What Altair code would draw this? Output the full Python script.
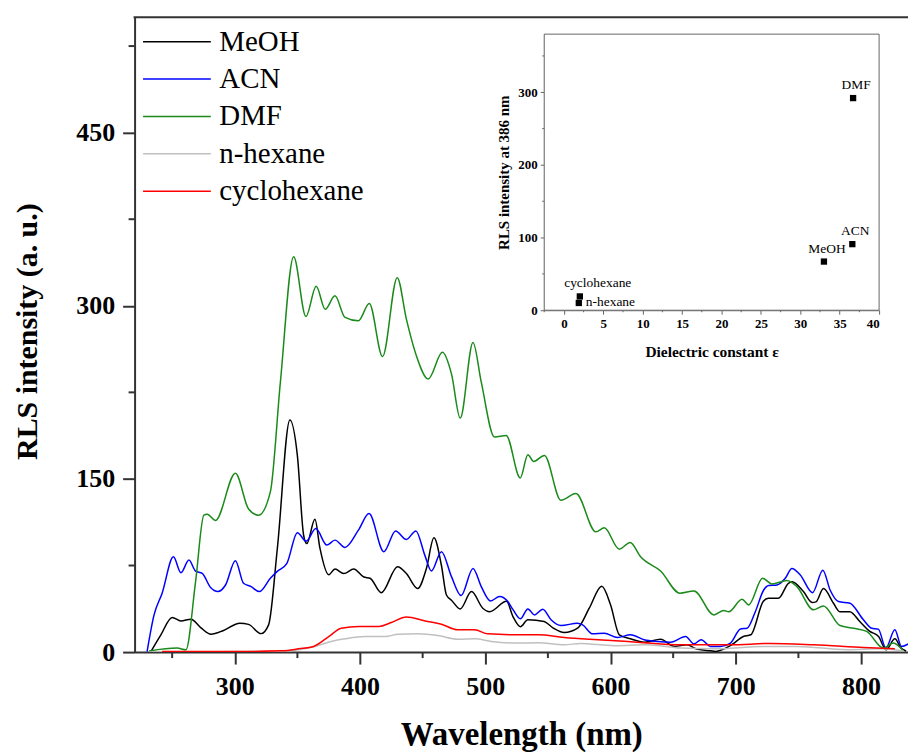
import altair as alt
import pandas as pd

# ---------------- main spectra ----------------
meoh_wl = [233, 241, 250, 257, 265, 273, 281, 291, 304, 311, 321, 327, 334, 344, 350, 355, 357.5, 364, 368, 375,
           380, 387, 395, 403, 408, 417, 430, 437, 446, 453, 459, 465, 469, 473, 480, 489, 498, 503.5, 517, 522,
           528, 534, 547, 554, 563, 574, 583, 593, 600, 607, 616, 627, 640, 651, 661, 669, 680, 684, 696, 706,
           712, 722, 726, 734, 742, 745, 754, 761, 764, 770, 778, 783, 791, 799, 807, 814, 820, 827, 832, 836]
meoh_v = [0.5, 15, 30, 27, 28.5, 21, 15.5, 18.7, 25, 24, 16, 23.6, 90, 201, 170, 101, 94, 115, 90, 67,
          72, 68, 72, 65, 64, 51.5, 74, 68, 55, 72.5, 99, 75, 49.5, 45, 37.4, 52.4, 38, 35, 44, 31,
          22, 28, 26.5, 21, 17, 21, 38, 57, 41, 15, 11.5, 8.6, 11.2, 4.9, 6.3, 2.6, 1.1, 0.6, 5.8, 13.5,
          15, 44, 46.6, 46.6, 59.6, 61, 52.4, 43, 43.5, 55, 42.3, 35, 35, 26.5, 18, 13.5, 2, 11.5, 3.5, 1]

acn_wl = [230, 235.5, 242, 251, 257, 263.4, 268.7, 274, 280.7, 286.5, 292.6, 300.5, 307, 313, 319.6, 328.4,
          333.7, 341.6, 350, 357, 364.7, 373.5, 380, 388, 398.7, 407.2, 419, 428.4, 437, 444.6, 451.7, 457,
          465, 473, 480.7, 490.2, 496.8, 504.2, 511.4, 518, 522, 528, 534, 539.3, 545.9, 552.5, 560.4, 573.7,
          577.7, 585.7, 595, 605.6, 616, 626.8, 637.4, 648, 659.9, 666.6, 672.4, 679.8, 687.7, 695.8, 703.7,
          709, 715.6, 722.3, 726.3, 732.9, 739.5, 744.8, 751.5, 761.3, 769.5, 775.3, 782, 791.2, 801.9, 808.5,
          813.8, 819.8, 827, 832.3, 839]
acn_v = [0.5, 32, 51, 82.6, 68.8, 79.7, 70.2, 68.2, 55.9, 52.4, 58.1, 79.2, 59.6, 56.7, 52.4, 63.9,
         69.7, 76.9, 103.4, 96, 107, 92.7, 97, 90.7, 105.6, 120, 87, 105, 97.6, 105, 84, 70.2,
         87, 65.4, 49, 72.5, 56.7, 44.3, 48.1, 43.8, 37, 28.8, 37.4, 32.2, 37.1, 28, 23, 25,
         23.6, 15.8, 16.4, 12.7, 15, 10.7, 9.2, 8.6, 13.5, 7.2, 10.7, 4.9, 4.9, 7.8, 20,
         20.7, 35, 53.8, 57.6, 58.1, 63.9, 72.5, 66.8, 51.5, 71, 53.8, 43.8, 42.3, 28, 20.7,
         19.9, 3.5, 19.3, 4.9, 7.8]

dmf_wl = [231.6, 254, 261, 268.7, 275.3, 278, 284.6, 300.5, 311, 319, 328.4, 336.4, 347, 356.8, 365, 372.2,
          380, 388, 398.7, 407.4, 418, 429.7, 437, 445, 454.4, 465.8, 473, 480, 490.2, 496.8, 507.4, 516.7,
          527.9, 534, 538.7, 547.2, 560.4, 572.4, 588.3, 595, 607, 615.7, 624, 640, 655.4, 666.6, 682.5,
          690.4, 694.4, 705, 710.3, 721.4, 728.9, 740.8, 748.8, 762, 770, 783.2, 794, 804.5, 817.8, 825.7, 833.7]
dmf_v = [1, 3.5, 2, 61, 118.6, 119.5, 114, 155, 124, 118.6, 138.8, 233.8, 342.5, 290.7, 317, 297,
         308.6, 290, 287, 302, 256, 324.4, 288.4, 256.7, 236.6, 259.7, 241, 202.7, 268.3, 233.8, 186.3, 187.7,
         150.9, 171, 165.2, 170.4, 131.5, 137.3, 104.2, 107.7, 89.2, 95, 82.6, 70.2, 51, 53, 32.2,
         36, 35, 45.8, 40.9, 63.9, 59, 62, 56.7, 36.6, 40, 23, 20.7, 17.9, 3.5, 7.8, 1]

hex_wl = [232, 300, 340, 351, 364, 377, 388, 404, 420, 430.5, 446, 462, 478, 491.5, 505, 526, 542, 563, 576,
          603, 629, 656, 682.5, 722, 749, 789, 815, 834]
hex_v = [0, 0.5, 1, 2, 4.9, 9.2, 11.5, 13.5, 13.5, 15.5, 15.8, 14.4, 11.2, 11.5, 9.2, 7.8, 8, 6.3, 7.5,
         5.5, 6.3, 3.5, 2.8, 4.9, 4.9, 2, 2.8, 1]

cyc_wl = [242, 300, 338, 351, 363, 375, 385, 399, 415, 425, 437, 452, 465, 478, 491.5, 502, 526, 542, 563,
          590, 621.5, 656, 696, 727.6, 762, 802, 827]
cyc_v = [0.5, 0.5, 1.1, 2.8, 4.9, 13.5, 20.7, 22.2, 22.2, 25.6, 30.5, 27, 24.2, 19.3, 19.3, 15.8, 15, 15, 12.7,
         10.7, 8.6, 6.3, 6.3, 7.5, 6.3, 4, 2.8]

series_names = ["MeOH", "ACN", "DMF", "n-hexane", "cyclohexane"]
series_colors = ["#000000", "#0000ff", "#1a8a1a", "#c0c0c0", "#ff0000"]

x_major = [300, 400, 500, 600, 700, 800]
x_minor = [250, 350, 450, 550, 650, 750]
y_major = [0, 150, 300, 450]
y_minor = [75, 225, 375, 525]
x_domain = [220, 837.5]
y_domain = [0, 550]

# ---------------- inset ----------------
inset_names = ["cyclohexane", "n-hexane", "MeOH", "ACN", "DMF"]
inset_eps = [2.02, 1.89, 33.0, 36.6, 36.7]
inset_rls = [19, 10, 67, 91, 292]
inset_x_major = [0, 5, 10, 15, 20, 25, 30, 35, 40]
inset_x_minor = [-2.5, 2.5, 7.5, 12.5, 17.5, 22.5, 27.5, 32.5, 37.5]
inset_y_major = [0, 100, 200, 300]
inset_y_minor = [50, 150, 250, 350]
inset_x_domain = [-2.5, 40]
inset_y_domain = [0, 380]

# ---------------- build ----------------
FONT = "Liberation Serif"
W, H = 776, 637
AX = "#333333"

rows = []
for name, wl, vals in zip(series_names, [meoh_wl, acn_wl, dmf_wl, hex_wl, cyc_wl],
                          [meoh_v, acn_v, dmf_v, hex_v, cyc_v]):
    for w, v in zip(wl, vals):
        rows.append({"solvent": name, "wavelength": w, "intensity": v})
df = pd.DataFrame(rows)


def xs():
    return alt.Scale(domain=x_domain, range=[0, W], nice=False, zero=False)


def ys():
    return alt.Scale(domain=y_domain, range=[H, 0], nice=False, zero=False)


lines = alt.Chart(df).mark_line(interpolate="monotone", strokeWidth=1.5, clip=True).encode(
    x=alt.X("wavelength:Q", scale=xs(),
            axis=alt.Axis(values=x_major, title="Wavelength (nm)", grid=False, orient="bottom",
                          domainColor=AX, domainWidth=2, tickColor=AX, tickWidth=2, tickSize=12,
                          labelFont=FONT, labelFontWeight="bold", labelFontSize=26, labelColor="black",
                          labelPadding=10, titleFont=FONT, titleFontWeight="bold", titleFontSize=33,
                          titleColor="black", titlePadding=19)),
    y=alt.Y("intensity:Q", scale=ys(),
            axis=alt.Axis(values=y_major, title="RLS intensity (a. u.)", grid=False, orient="left",
                          domainColor=AX, domainWidth=2, tickColor=AX, tickWidth=2, tickSize=12,
                          labelFont=FONT, labelFontWeight="bold", labelFontSize=26, labelColor="black",
                          labelPadding=8, titleFont=FONT, titleFontWeight="bold", titleFontSize=30,
                          titleColor="black", titlePadding=33, titleY=315)),
    color=alt.Color("solvent:N", sort=series_names,
                    scale=alt.Scale(domain=series_names, range=series_colors),
                    legend=alt.Legend(title=None, orient="none", legendX=28, legendY=10,
                                      symbolType="M-4,0H4", symbolSize=289, symbolStrokeWidth=1.5,
                                      labelFont=FONT, labelFontSize=29, labelColor="black",
                                      labelOffset=28, rowPadding=7.5, padding=0)),
)

xminor = alt.Chart(pd.DataFrame({"wavelength": x_minor})).mark_rule(color=AX, strokeWidth=2).encode(
    x=alt.X("wavelength:Q", scale=xs(), axis=None), y=alt.value(H), y2=alt.value(H + 6))
yminor = alt.Chart(pd.DataFrame({"intensity": y_minor})).mark_rule(color=AX, strokeWidth=2).encode(
    y=alt.Y("intensity:Q", scale=ys(), axis=None), x=alt.value(0), x2=alt.value(-6))
topline = alt.Chart(pd.DataFrame({"a": [0]})).mark_rule(color=AX, strokeWidth=2).encode(
    x=alt.value(-1), x2=alt.value(W + 10), y=alt.value(0))

# inset
IX0, IX1 = 411, 747
IY0, IY1 = 294, 17
IAX = "#666666"


def ixs():
    return alt.Scale(domain=inset_x_domain, range=[IX0, IX1], nice=False, zero=False)


def iys():
    return alt.Scale(domain=inset_y_domain, range=[IY0, IY1], nice=False, zero=False)


frame_df = pd.DataFrame({"eps": [inset_x_domain[0]], "eps2": [inset_x_domain[1]],
                         "rls": [inset_y_domain[0]], "rls2": [inset_y_domain[1]]})
frame = alt.Chart(frame_df).mark_rect(fill="white", stroke=IAX, strokeWidth=1).encode(
    x=alt.X("eps:Q", scale=ixs(),
            axis=alt.Axis(values=inset_x_major, title="Dielectric constant ε", grid=False, orient="bottom",
                          offset=-(H - IY0), domainColor=IAX, domainWidth=1, tickColor=IAX, tickSize=4,
                          labelFont=FONT, labelFontWeight="bold", labelFontSize=13, labelColor="black",
                          labelPadding=3, titleFont=FONT, titleFontWeight="bold", titleFontSize=15.5,
                          titleColor="black", titlePadding=14)),
    x2="eps2:Q",
    y=alt.Y("rls:Q", scale=iys(),
            axis=alt.Axis(values=inset_y_major, title="RLS intensity at 386 nm", grid=False, orient="left",
                          offset=-IX0, domainColor=IAX, domainWidth=1, tickColor=IAX, tickSize=4,
                          labelFont=FONT, labelFontWeight="bold", labelFontSize=13, labelColor="black",
                          labelPadding=3, titleFont=FONT, titleFontWeight="bold", titleFontSize=15,
                          titleColor="black", titlePadding=6)),
    y2="rls2:Q",
)
ixminor = alt.Chart(pd.DataFrame({"eps": inset_x_minor})).mark_rule(color=IAX, strokeWidth=1).encode(
    x=alt.X("eps:Q", scale=ixs(), axis=None), y=alt.value(IY0), y2=alt.value(IY0 + 2))
iyminor = alt.Chart(pd.DataFrame({"rls": inset_y_minor})).mark_rule(color=IAX, strokeWidth=1).encode(
    y=alt.Y("rls:Q", scale=iys(), axis=None), x=alt.value(IX0), x2=alt.value(IX0 - 2))

idf = pd.DataFrame({"name": inset_names, "eps": inset_eps, "rls": inset_rls})
ipts = alt.Chart(idf).mark_square(size=40, color="black", opacity=1).encode(
    x=alt.X("eps:Q", scale=ixs(), axis=None), y=alt.Y("rls:Q", scale=iys(), axis=None))

tbase = alt.Chart(idf)
lab_above = tbase.transform_filter(
    alt.FieldOneOfPredicate(field="name", oneOf=["MeOH", "ACN", "DMF"])
).mark_text(font=FONT, fontSize=13.5, color="black", dy=-13, dx=3, baseline="middle").encode(
    x=alt.X("eps:Q", scale=ixs(), axis=None), y=alt.Y("rls:Q", scale=iys(), axis=None), text="name:N")
lab_cyc = tbase.transform_filter(alt.datum.name == "cyclohexane").mark_text(
    font=FONT, fontSize=13.5, color="black", dy=-13, dx=18, baseline="middle").encode(
    x=alt.X("eps:Q", scale=ixs(), axis=None), y=alt.Y("rls:Q", scale=iys(), axis=None), text="name:N")
lab_hex = tbase.transform_filter(alt.datum.name == "n-hexane").mark_text(
    font=FONT, fontSize=13.5, color="black", dx=7, dy=-1, align="left", baseline="middle").encode(
    x=alt.X("eps:Q", scale=ixs(), axis=None), y=alt.Y("rls:Q", scale=iys(), axis=None), text="name:N")

chart = alt.layer(
    lines, xminor, yminor, topline, frame, ixminor, iyminor, ipts, lab_above, lab_cyc, lab_hex
).resolve_scale(x="independent", y="independent").resolve_axis(x="independent", y="independent").properties(
    width=W, height=H,
    padding={"left": 127, "top": 8, "right": 0, "bottom": 100},
    autosize=alt.AutoSizeParams(type="none"),
    background="white",
).configure_view(stroke=None)

chart.save("out.html", embed_options={"renderer": "svg", "actions": False})
